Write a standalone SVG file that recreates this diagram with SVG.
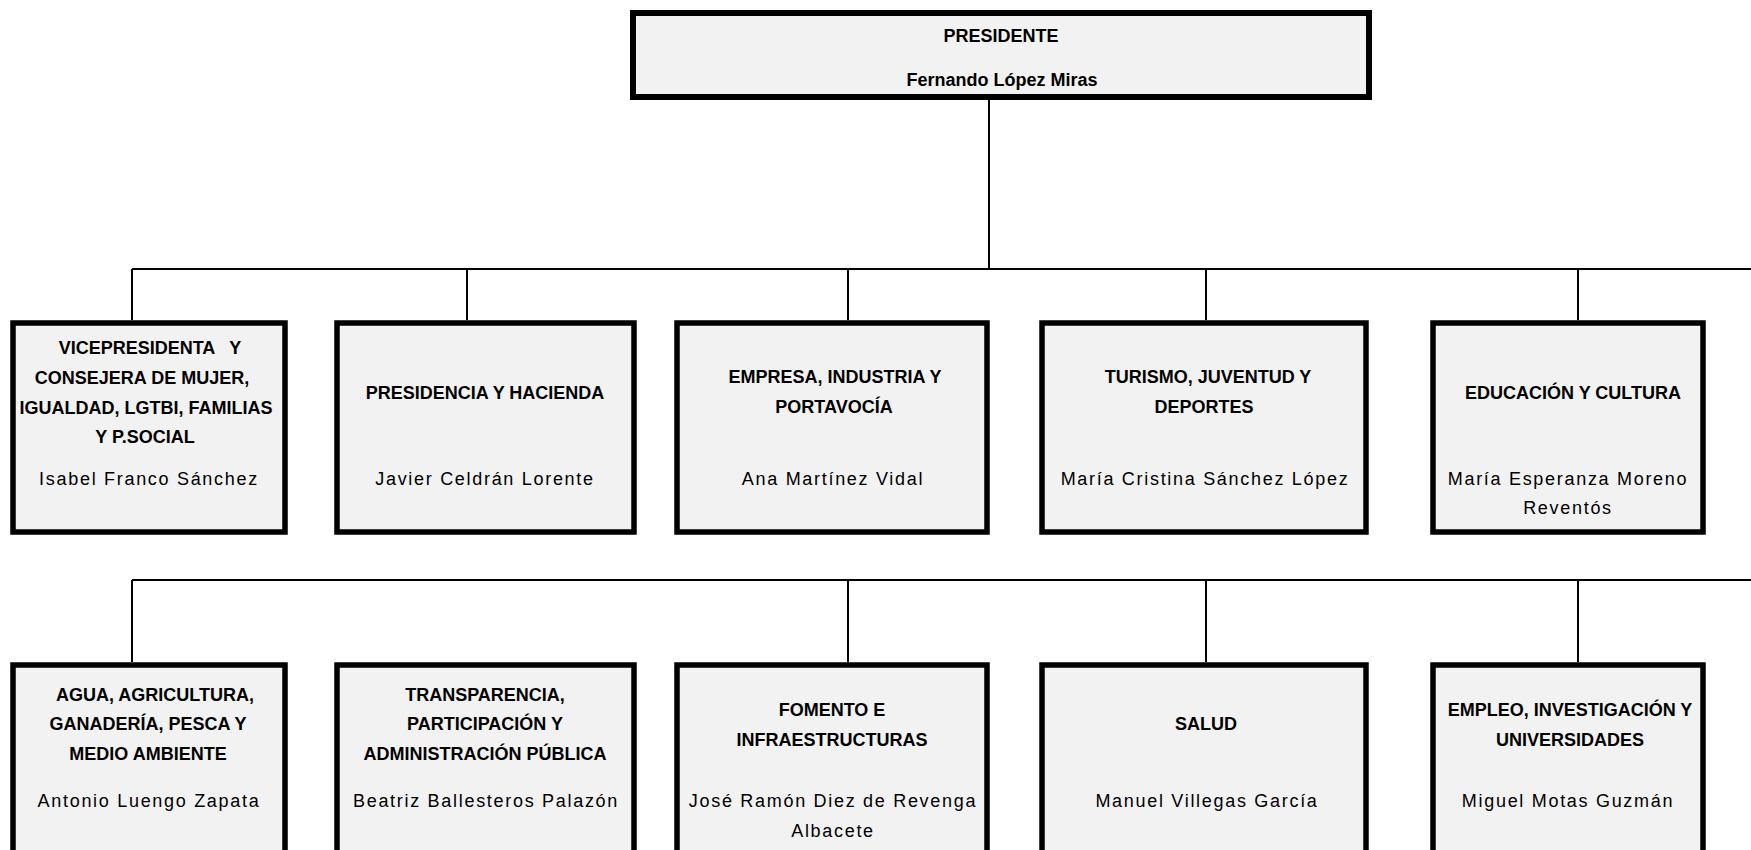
<svg xmlns="http://www.w3.org/2000/svg" width="1751" height="850" viewBox="0 0 1751 850">
<style>
.box{fill:#f2f2f2;stroke:#000;stroke-width:5.5}
.pbox{fill:#f2f2f2;stroke:#000;stroke-width:6}
.con{stroke:#000;stroke-width:2;fill:none}
text{font-family:"Liberation Sans",Arial,sans-serif;font-size:18px;fill:#000;text-anchor:middle}
.t{font-weight:bold}
.n{letter-spacing:1.7px}
</style>
<rect width="1751" height="850" fill="#fff"/>
<g id="connectors">
<line class="con" x1="989" y1="100" x2="989" y2="269"/>
<line class="con" x1="132" y1="269" x2="1751" y2="269"/>
<line class="con" x1="132" y1="269" x2="132" y2="320"/>
<line class="con" x1="467" y1="269" x2="467" y2="320"/>
<line class="con" x1="848" y1="269" x2="848" y2="320"/>
<line class="con" x1="1206" y1="269" x2="1206" y2="320"/>
<line class="con" x1="1578" y1="269" x2="1578" y2="320"/>
<line class="con" x1="132" y1="580" x2="1751" y2="580"/>
<line class="con" x1="132" y1="580" x2="132" y2="662"/>
<line class="con" x1="848" y1="580" x2="848" y2="662"/>
<line class="con" x1="1206" y1="580" x2="1206" y2="662"/>
<line class="con" x1="1578" y1="580" x2="1578" y2="662"/>
</g>
<g id="presidente">
<rect class="pbox" x="633" y="13" width="736" height="84"/>
<text class="t" x="1001" y="42">PRESIDENTE</text>
<text class="t" x="1002" y="86">Fernando López Miras</text>
</g>
<g id="vicepresidenta">
<rect class="box" x="13" y="323" width="272" height="209"/>
<text class="t" x="150" y="353.5" xml:space="preserve">VICEPRESIDENTA   Y</text>
<text class="t" x="142" y="383.5">CONSEJERA DE MUJER,</text>
<text class="t" x="146" y="413.5">IGUALDAD, LGTBI, FAMILIAS</text>
<text class="t" x="145" y="442.5">Y P.SOCIAL</text>
<text class="n" x="149" y="485">Isabel Franco Sánchez</text>
</g>
<g id="presidencia">
<rect class="box" x="337" y="323" width="297" height="209"/>
<text class="t" x="485" y="398.5">PRESIDENCIA Y HACIENDA</text>
<text class="n" x="485" y="485">Javier Celdrán Lorente</text>
</g>
<g id="empresa">
<rect class="box" x="677" y="323" width="310" height="209"/>
<text class="t" x="835" y="382.5">EMPRESA, INDUSTRIA Y</text>
<text class="t" x="834" y="413">PORTAVOCÍA</text>
<text class="n" x="833" y="485">Ana Martínez Vidal</text>
</g>
<g id="turismo">
<rect class="box" x="1042" y="323" width="324" height="209"/>
<text class="t" x="1208" y="382.5">TURISMO, JUVENTUD Y</text>
<text class="t" x="1204" y="413">DEPORTES</text>
<text class="n" x="1205" y="485">María Cristina Sánchez López</text>
</g>
<g id="educacion">
<rect class="box" x="1433" y="323" width="270" height="209"/>
<text class="t" x="1573" y="398.5">EDUCACIÓN Y CULTURA</text>
<text class="n" x="1568" y="485">María Esperanza Moreno</text>
<text class="n" x="1568" y="514">Reventós</text>
</g>
<g id="agua">
<rect class="box" x="13" y="665" width="272" height="230"/>
<text class="t" x="155" y="701">AGUA, AGRICULTURA,</text>
<text class="t" x="148" y="730">GANADERÍA, PESCA Y</text>
<text class="t" x="148" y="760">MEDIO AMBIENTE</text>
<text class="n" x="149" y="806.5">Antonio Luengo Zapata</text>
</g>
<g id="transparencia">
<rect class="box" x="337" y="665" width="297" height="230"/>
<text class="t" x="485" y="701">TRANSPARENCIA,</text>
<text class="t" x="485" y="730">PARTICIPACIÓN Y</text>
<text class="t" x="485" y="760">ADMINISTRACIÓN PÚBLICA</text>
<text class="n" x="486" y="806.5">Beatriz Ballesteros Palazón</text>
</g>
<g id="fomento">
<rect class="box" x="677" y="665" width="310" height="230"/>
<text class="t" x="832" y="715.5">FOMENTO E</text>
<text class="t" x="832" y="745.5">INFRAESTRUCTURAS</text>
<text class="n" x="833" y="806.5">José Ramón Diez de Revenga</text>
<text class="n" x="833" y="836.5">Albacete</text>
</g>
<g id="salud">
<rect class="box" x="1042" y="665" width="324" height="230"/>
<text class="t" x="1206" y="730">SALUD</text>
<text class="n" x="1207" y="806.5">Manuel Villegas García</text>
</g>
<g id="empleo">
<rect class="box" x="1433" y="665" width="270" height="230"/>
<text class="t" x="1570" y="715.5">EMPLEO, INVESTIGACIÓN Y</text>
<text class="t" x="1570" y="745.5">UNIVERSIDADES</text>
<text class="n" x="1568" y="806.5">Miguel Motas Guzmán</text>
</g>
</svg>
